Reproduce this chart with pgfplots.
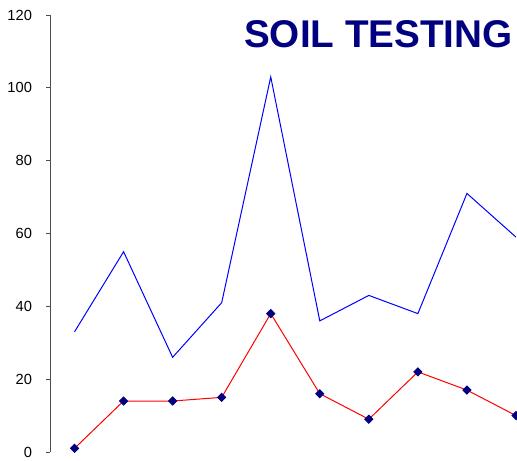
\documentclass[border=0pt]{standalone}
\usepackage{pgfplots}
\pgfplotsset{compat=1.18}
\usepackage{fontspec}
\setmainfont{Liberation Sans}
\definecolor{navy}{RGB}{0,0,128}
\begin{document}
\begin{tikzpicture}
\useasboundingbox (0pt,0pt) rectangle (387.75pt,345pt);
\begin{axis}[
  at={(37.5pt,6pt)}, anchor=south west,
  scale only axis, width=349.5pt, height=327.75pt,
  xmin=0.5, xmax=10, ymin=0, ymax=120,
  axis x line=none, axis y line*=left,
  ytick={0,20,...,120}, xtick=\empty,
  tick align=outside, major tick length=3pt,
  y axis line style={draw=black!70, line width=0.6pt},
  ytick style={draw=black!70, line width=0.6pt},
  tick label style={font=\fontsize{11}{13}\selectfont},
  /pgf/number format/assume math mode=true,
  yticklabel style={xshift=-7pt},
  clip=true,
]
\addplot[blue, line width=0.75pt, mark=none] coordinates {
(1,33) (2,55) (3,26) (4,41) (5,103) (6,36) (7,43) (8,38) (9,71) (10,59)};
\addplot[red, line width=0.75pt, mark=square*, mark size=2.1pt,
  mark options={draw=navy, fill=navy, solid, rotate=45}] coordinates {
(1,1) (2,14) (3,14) (4,15) (5,38) (6,16) (7,9) (8,22) (9,17) (10,10)};
\end{axis}
\node[anchor=base east, inner sep=0, text=navy, font=\bfseries\fontsize{29}{32}\selectfont] at (384.75pt,309pt) {SOIL TESTING};
\end{tikzpicture}
\end{document}
